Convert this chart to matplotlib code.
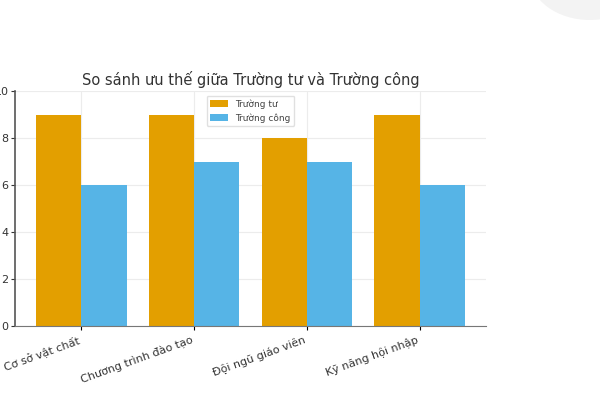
import matplotlib.pyplot as plt
import matplotlib.patches as mpatches
import numpy as np

categories = ['Cơ sở vật chất', 'Chương trình đào tạo', 'Đội ngũ giáo viên', 'Kỹ năng hội nhập']
truong_tu = [9, 9, 8, 9]
truong_cong = [6, 7, 7, 6]

fig = plt.figure(figsize=(6, 4), dpi=100)
ax = fig.add_axes([0.025, 0.185, 0.785, 0.5875])

x = np.arange(len(categories))
w = 0.4
ax.bar(x - w / 2, truong_tu, w, color='#E39F00', label='Trường tư', zorder=2)
ax.bar(x + w / 2, truong_cong, w, color='#56B4E6', label='Trường công', zorder=2)

ax.set_ylim(0, 10)
ax.set_xticks(x)
ax.set_xticklabels(categories, rotation=20, ha='right', fontsize=8, color='#333333')
ax.tick_params(axis='y', labelsize=8, colors='#333333', length=3, pad=1.5)
ax.tick_params(axis='x', length=3, pad=3)
ax.grid(True, color='#ececec', linewidth=0.8, zorder=0)
ax.spines['top'].set_visible(False)
ax.spines['right'].set_visible(False)
ax.spines['left'].set_color('#555555')
ax.spines['left'].set_linewidth(1.2)
ax.spines['bottom'].set_color('#777777')
ax.set_title('So sánh ưu thế giữa Trường tư và Trường công', fontsize=10.5, color='#333333', pad=4)
ax.legend(loc='upper center', fontsize=6.5, bbox_to_anchor=(0.5, 1.0), framealpha=0.9,
          edgecolor='#dddddd', labelcolor='#444444')

# grey circle in the top right corner
fig.patches.append(mpatches.Ellipse((0.983, 1.0625), 0.2, 0.225, transform=fig.transFigure,
                                    facecolor='#f3f3f3', edgecolor='none', zorder=-1))

fig.savefig('out.png', dpi=100)
